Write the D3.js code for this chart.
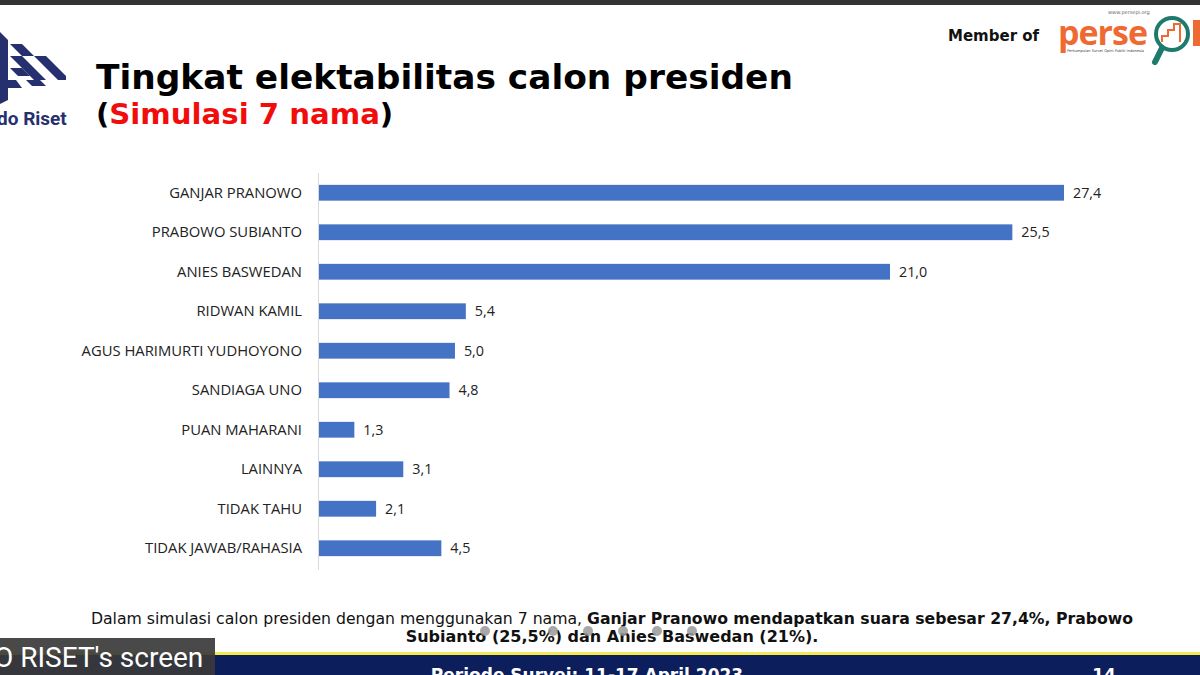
<!DOCTYPE html>
<html><head><meta charset="utf-8">
<script src="https://cdn.jsdelivr.net/npm/d3@7/dist/d3.min.js"></script>
<style>body{margin:0;background:#fff;overflow:hidden}svg{display:block}</style>
</head><body>
<svg id="c" width="1200" height="675"></svg>
<script>
const categories = ["GANJAR PRANOWO","PRABOWO SUBIANTO","ANIES BASWEDAN","RIDWAN KAMIL","AGUS HARIMURTI YUDHOYONO","SANDIAGA UNO","PUAN MAHARANI","LAINNYA","TIDAK TAHU","TIDAK JAWAB/RAHASIA"];
const values = [27.4,25.5,21.0,5.4,5.0,4.8,1.3,3.1,2.1,4.5];
const valueLabels = ["27,4","25,5","21,0","5,4","5,0","4,8","1,3","3,1","2,1","4,5"];
const dotsX = [485,553,588,623,657,692];

const svg = d3.select("#c");
svg.append("rect").attr("x",0).attr("y",0).attr("width",1200).attr("height",5).attr("fill","#333");

// logo (partial, left)
const lg = svg.append("g").attr("fill","#26306e");
lg.append("polygon").attr("points","0,32 8,40 8,100 0,104");
lg.append("polygon").attr("points","10,44 22,44 34,56 22,56");
lg.append("polygon").attr("points","34,56 46,56 58,68 46,68");
lg.append("polygon").attr("points","10,56 22,56 34,68 22,68");
lg.append("polygon").attr("points","22,68 34,68 46,80 34,80");
lg.append("polygon").attr("points","46,68 58,68 66,76 66,80 58,80");
lg.append("polygon").attr("points","10,68 22,68 30,76 18,76");
lg.append("polygon").attr("points","26,80 40,80 46,86 32,86");
lg.append("polygon").attr("points","8,80 16,80 22,88 8,88");
svg.append("text").attr("x",-3).attr("y",125).attr("font-family","Liberation Sans Narrow, Roboto, sans-serif")
  .attr("font-size",19).attr("fill","#26306e").attr("font-weight","bold").text("do Riset");

// title
svg.append("text").attr("x",96).attr("y",89).attr("font-family","DejaVu Sans, Verdana, sans-serif")
  .attr("font-weight","bold").attr("font-size",34.4).attr("fill","#000").text("Tingkat elektabilitas calon presiden");
const st = svg.append("text").attr("x",96).attr("y",124).attr("font-family","DejaVu Sans, Verdana, sans-serif")
  .attr("font-weight","bold").attr("font-size",29.2).attr("fill","#000");
st.append("tspan").text("(");
st.append("tspan").attr("fill","#f20d0d").text("Simulasi 7 nama");
st.append("tspan").text(")");

// Member of / persepi
svg.append("text").attr("x",948).attr("y",41).attr("font-family","DejaVu Sans, Verdana, sans-serif")
  .attr("font-weight","bold").attr("font-size",15).attr("fill","#111").text("Member of");
svg.append("text").attr("x",1058).attr("y",45).attr("font-family","Open Sans, DejaVu Sans, sans-serif")
  .attr("font-weight","bold").attr("font-size",34).attr("fill","#ef6a33").attr("letter-spacing",-1).text("perse");
svg.append("text").attr("x",1108).attr("y",14).attr("font-family","DejaVu Sans, sans-serif")
  .attr("font-size",5).attr("fill","#666").text("www.persepi.org");
svg.append("text").attr("x",1067).attr("y",52).attr("font-family","DejaVu Sans, sans-serif")
  .attr("font-size",3.6).attr("fill","#444").text("Perkumpulan Survei Opini Publik Indonesia");
svg.append("circle").attr("cx",1172).attr("cy",34).attr("r",16).attr("fill","none").attr("stroke","#1f7a6e").attr("stroke-width",4);
svg.append("line").attr("x1",1162).attr("y1",48).attr("x2",1155).attr("y2",62).attr("stroke","#1f7a6e").attr("stroke-width",6).attr("stroke-linecap","round");
svg.append("path").attr("d","M1162,42 v-6 h6 v-6 h6 v-6 h6 v18").attr("fill","none").attr("stroke","#ef6a33").attr("stroke-width",2);
svg.append("rect").attr("x",1193).attr("y",20).attr("width",7).attr("height",26).attr("fill","#ef6a33");

// chart
const x = d3.scaleLinear().domain([0,27.4]).range([319,1064]);
const y = d3.scaleBand().domain(categories).range([173,568]).paddingInner(0.6).paddingOuter(0.3);

svg.append("line").attr("x1",318.5).attr("x2",318.5).attr("y1",173).attr("y2",570)
  .attr("stroke","#d9d9d9").attr("stroke-width",1);

const g = svg.append("g");
g.selectAll("rect.bar").data(values).join("rect").attr("class","bar")
  .attr("x",x(0)).attr("y",(d,i)=>y(categories[i])).attr("width",d=>x(d)-x(0)).attr("height",y.bandwidth())
  .attr("fill","#4472c4");

const axis = d3.axisLeft(y).tickSize(0).tickPadding(0);
const ag = svg.append("g").attr("transform","translate(302,0)").call(axis);
ag.select(".domain").remove();
ag.selectAll("text").attr("font-family","Open Sans, Liberation Sans, sans-serif").attr("font-size",14.8)
  .attr("fill","#222").attr("dy","0.35em");

g.selectAll("text.val").data(values).join("text").attr("class","val")
  .attr("x",d=>x(d)+9).attr("y",(d,i)=>y(categories[i])+y.bandwidth()/2).attr("dy","0.36em")
  .attr("font-family","Open Sans, Liberation Sans, sans-serif").attr("font-size",14.3).attr("fill","#222")
  .text((d,i)=>valueLabels[i]);

// footnote
const f1 = svg.append("text").attr("x",612).attr("y",624).attr("text-anchor","middle")
  .attr("font-family","DejaVu Sans, Verdana, sans-serif").attr("font-size",15.7).attr("fill","#111");
f1.append("tspan").text("Dalam simulasi calon presiden dengan menggunakan 7 nama, ");
f1.append("tspan").attr("font-weight","bold").text("Ganjar Pranowo mendapatkan suara sebesar 27,4%, Prabowo");
svg.append("text").attr("x",612).attr("y",642).attr("text-anchor","middle")
  .attr("font-family","DejaVu Sans, Verdana, sans-serif").attr("font-size",16).attr("font-weight","bold").attr("fill","#111")
  .text("Subianto (25,5%) dan Anies Baswedan (21%).");
svg.selectAll("circle.dot").data(dotsX).join("circle").attr("class","dot")
  .attr("cx",d=>d).attr("cy",631).attr("r",5).attr("fill","#999").attr("opacity",0.85);

// bottom band
svg.append("rect").attr("x",0).attr("y",652).attr("width",1200).attr("height",3).attr("fill","#f2e94e");
svg.append("rect").attr("x",0).attr("y",655).attr("width",1200).attr("height",20).attr("fill","#0c1e5b");
svg.append("text").attr("x",587).attr("y",681).attr("text-anchor","middle").attr("font-family","DejaVu Sans, Verdana, sans-serif")
  .attr("font-weight","bold").attr("font-size",17).attr("fill","#fff").text("Periode Survei: 11-17 April 2023");
svg.append("text").attr("x",1104).attr("y",681).attr("text-anchor","middle").attr("font-family","DejaVu Sans, Verdana, sans-serif")
  .attr("font-weight","bold").attr("font-size",17).attr("fill","#fff").text("14");

// screen-share label
svg.append("rect").attr("x",0).attr("y",638).attr("width",215).attr("height",37).attr("fill","#3a3a3a").attr("opacity",0.92);
svg.append("text").attr("x",-6).attr("y",667).attr("font-family","Liberation Sans Narrow, Roboto, sans-serif")
  .attr("font-size",28).attr("fill","#fff").text("O RISET's screen");
</script>
</body></html>
